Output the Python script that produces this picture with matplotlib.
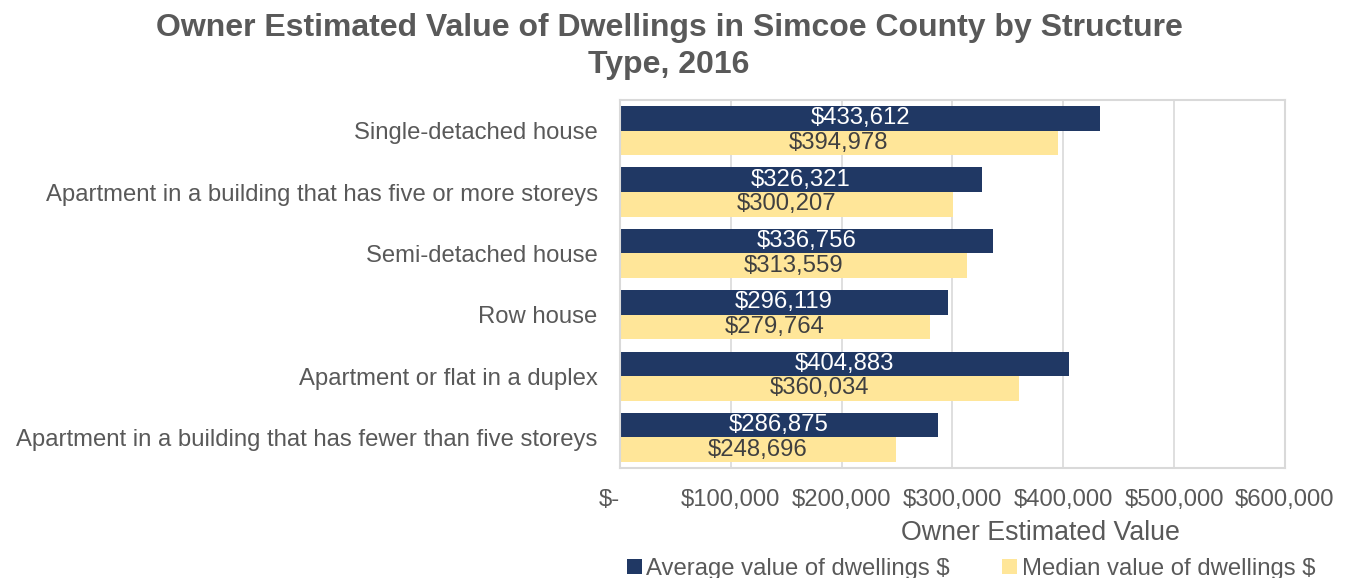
import numpy as np
import matplotlib.pyplot as plt
from matplotlib.ticker import FuncFormatter

plt.rcParams['font.family'] = ['Liberation Sans', 'DejaVu Sans']

categories = ["Single-detached house",
              "Apartment in a building that has five or more storeys",
              "Semi-detached house",
              "Row house",
              "Apartment or flat in a duplex",
              "Apartment in a building that has fewer than five storeys"]
average_values = [433612, 326321, 336756, 296119, 404883, 286875]
median_values = [394978, 300207, 313559, 279764, 360034, 248696]
series_names = ["Average value of dwellings $", "Median value of dwellings $"]

NAVY = '#203864'
YELLOW = '#FFE699'
GREY = '#595959'
FS = 17.2

fig = plt.figure(figsize=(13.46, 5.78), dpi=100)
ax = fig.add_axes([0.4606, 0.190, 0.494, 0.637])

y = np.arange(len(categories))
h = 0.4
b1 = ax.barh(y - h/2, average_values, height=h, color=NAVY, label=series_names[0], zorder=2)
b2 = ax.barh(y + h/2, median_values, height=h, color=YELLOW, label=series_names[1], zorder=2)

for bars, col in ((b1, 'white'), (b2, '#404040')):
    for bar in bars:
        w = bar.get_width()
        ax.text(w/2, bar.get_y() + bar.get_height()/2, "${:,.0f}".format(w),
                ha='center', va='center', color=col, fontsize=FS)

ax.set_xlim(0, 600000)
ax.set_ylim(len(categories) - 0.5, -0.5)
ax.set_xticks(np.arange(0, 600001, 100000))
ax.xaxis.set_major_formatter(FuncFormatter(lambda v, p: "$-" if v == 0 else "${:,.0f}".format(v)))
ax.set_yticks(y)
ax.set_yticklabels(categories)
ax.tick_params(axis='both', length=0, labelsize=FS, labelcolor=GREY)
ax.tick_params(axis='x', pad=15)
ax.tick_params(axis='y', pad=16)
ax.get_xticklabels()[0].set_horizontalalignment('right')
ax.grid(axis='x', color='#D9D9D9', linewidth=1.2, zorder=0)
for s in ax.spines.values():
    s.set_color('#D9D9D9')
    s.set_linewidth(1.5)

ax.set_xlabel("Owner Estimated Value", fontsize=19.3, color=GREY)
ax.xaxis.set_label_coords(0.633, -0.14)

fig.suptitle("Owner Estimated Value of Dwellings in Simcoe County by Structure\nType, 2016",
             x=0.497, y=0.978, fontsize=23, fontweight='bold', color=GREY, linespacing=1.3)

fig.legend(handles=[b1, b2], loc='lower left', bbox_to_anchor=(0.450, -0.04), ncol=2,
           frameon=False, fontsize=FS, labelcolor=GREY, handlelength=0.6, handleheight=0.6,
           handletextpad=0.2, columnspacing=2.2)

fig.savefig('out.png', dpi=100)
